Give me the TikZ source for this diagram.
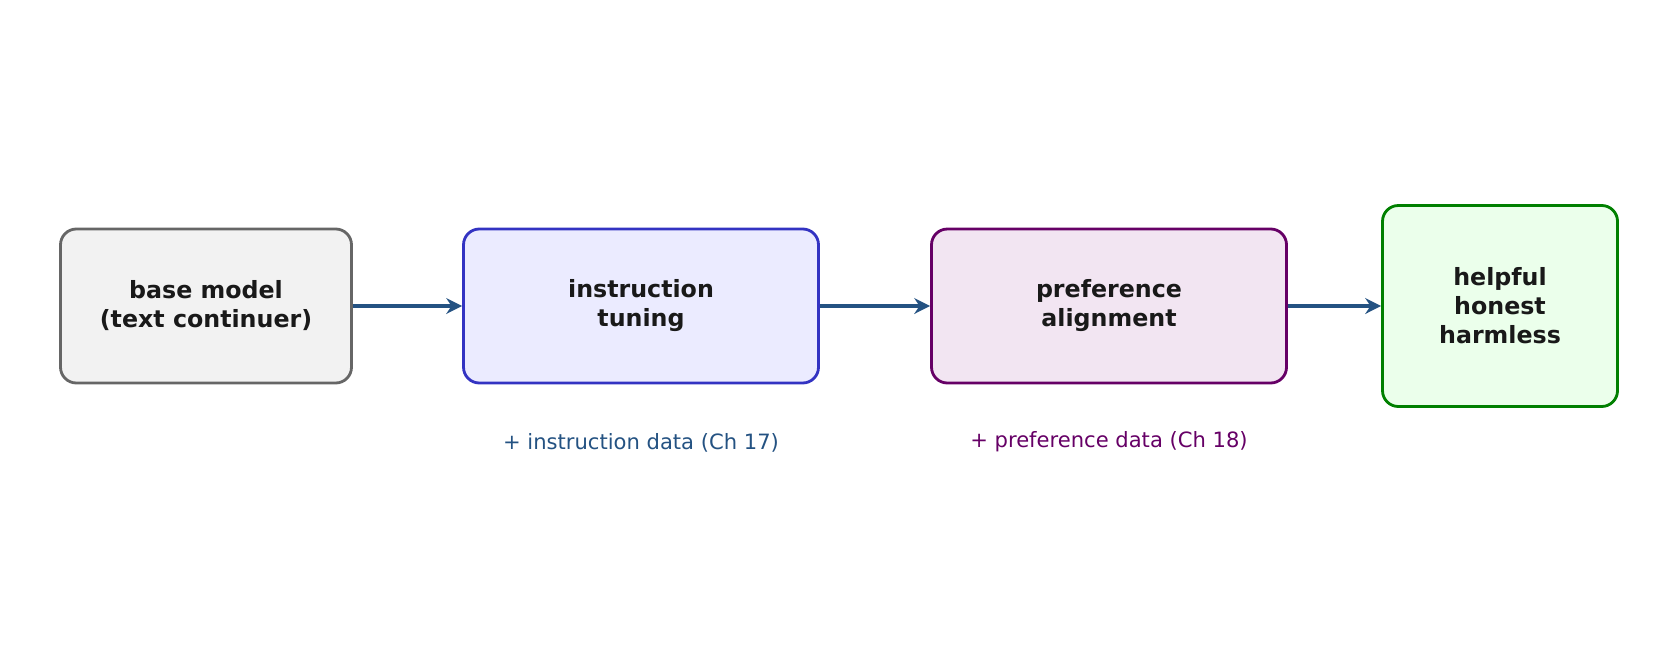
\documentclass[tikz,border=0pt]{standalone}
\usepackage{fontspec}
\setmainfont{DejaVu Sans}
\usetikzlibrary{arrows.meta,positioning}
\definecolor{arrowblue}{HTML}{245282}
\begin{document}
\begin{tikzpicture}[
    stage/.style={draw, line width=1.6pt, rounded corners=9pt, minimum height=3.08cm, align=center, font=\fontsize{13.5}{16.5}\selectfont\bfseries, text=black!90},
    note/.style={font=\fontsize{12}{14}\selectfont},
    arr/.style={-{Stealth[length=9pt,width=9pt]}, line width=2.2pt, arrowblue},
]
\useasboundingbox (0,0) rectangle (33.38,-12.96);

% Stages
\node[stage, draw=black!60, fill=black!5, minimum width=5.82cm] (base) at (4.12,-6.12) {base model\\(text continuer)};
\node[stage, draw=blue!70!black!80, fill=blue!8, minimum width=7.1cm] (instr) at (12.82,-6.12) {instruction\\tuning};
\node[stage, draw=violet!80!black, fill=violet!10, minimum width=7.1cm] (pref) at (22.18,-6.12) {preference\\alignment};
\node[stage, draw=green!50!black, fill=green!8, minimum width=4.7cm, minimum height=4.02cm] (hhh) at (30.0,-6.12) {helpful\\honest\\harmless};

% Data notes
\node[note, text=arrowblue] (instrdata) at (12.82,-8.86) {+ instruction data (Ch 17)};
\node[note, text=violet!80!black] (prefdata) at (22.18,-8.84) {+ preference data (Ch 18)};

% Arrows
\draw[arr] (base) -- (instr);
\draw[arr] (instr) -- (pref);
\draw[arr] (pref) -- (hhh);

\end{tikzpicture}
\end{document}
